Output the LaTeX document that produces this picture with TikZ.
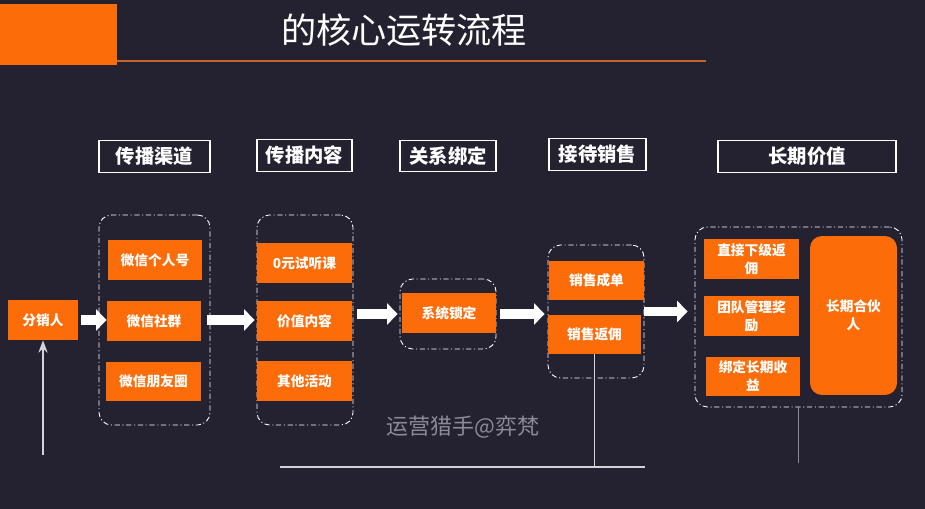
\documentclass[tikz,border=0pt]{standalone}
\usepackage{fontspec}
\newfontfamily\cjk{Noto Sans CJK SC}
\usepackage{tikz}
\usetikzlibrary{positioning,arrows.meta,fit}

\definecolor{bgDark}{RGB}{36,33,49}
\definecolor{accent}{RGB}{252,108,8}
\definecolor{ruleLine}{RGB}{196,98,48}
\definecolor{lineGray}{RGB}{210,210,216}
\definecolor{markGray}{RGB}{140,138,152}

\begin{document}
\begin{tikzpicture}[
  x=0.02cm, y=-0.02cm,
  headBox/.style={draw=white, line width=0.7pt, text=white, inner sep=0pt,
                  minimum height=0.63cm, text height=9.7pt, text depth=1.3pt,
                  font=\cjk\bfseries\fontsize{11}{13}\selectfont},
  groupBox/.style={draw=white, line width=0.5pt, rounded corners=0.25cm,
                   dash pattern=on 3pt off 1.5pt on 0.6pt off 1.5pt, inner sep=0pt},
  stepBox/.style={fill=accent, text=white, inner sep=0pt, align=center,
                  minimum width=1.9cm, minimum height=0.8cm,
                  text height=6.9pt, text depth=0.9pt,
                  font=\cjk\bfseries\fontsize{7.8}{10}\selectfont},
  twoLine/.style={text height=16.9pt, text depth=0.9pt},
  flowArrow/.style={white, line width=5.5pt, -{Triangle[length=6pt, width=12pt]}},
  fbLine/.style={lineGray, line width=0.9pt},
  >=Stealth
]
  % Background and title bar
  \fill[bgDark] (0,0) rectangle (925,509);
  \useasboundingbox (0,0) rectangle (925,509);
  \fill[accent] (0,4) rectangle (117,65);
  \draw[ruleLine, line width=0.9pt] (117,61) -- (706,61);
  \node[text=white, font=\cjk\fontsize{20}{24}\selectfont,
        text height=17.6pt, text depth=2.4pt] (title) at (404,30) {的核心运转流程};

  % Column headers
  \node[headBox, minimum width=2.22cm] (chanHead) at (154.5,156.5) {传播渠道};
  \node[headBox, minimum width=1.9cm] (contHead) at (304.5,155.5) {传播内容};
  \node[headBox, minimum width=1.92cm] (bindHead) at (448,156) {关系绑定};
  \node[headBox, minimum width=1.94cm] (saleHead) at (597.5,154.5) {接待销售};
  \node[headBox, minimum width=3.56cm] (valueHead) at (807,156.5) {长期价值};

  % Start
  \node[stepBox, minimum width=1.4cm] (distributor) at (43,320) {分销人};

  % Channels
  \node[groupBox, fit={(99,215) (210,425)}] (chanBox) {};
  \node[stepBox, minimum width=1.88cm] (wxPersonal) at (155,260) {微信个人号};
  \node[stepBox, minimum width=1.88cm] (wxGroup) at (154,321) {微信社群};
  \node[stepBox, minimum height=0.78cm] (wxMoments) at (153.5,381.5) {微信朋友圈};

  % Content
  \node[groupBox, fit={(257,215) (353,425)}] (contBox) {};
  \node[stepBox] (freeTrial) at (304.5,263) {0元试听课};
  \node[stepBox] (valueContent) at (304.5,321) {价值内容};
  \node[stepBox] (otherEvents) at (304.5,381) {其他活动};

  % Binding
  \node[groupBox, fit={(400,279) (496,349)}] (bindBox) {};
  \node[stepBox, minimum width=1.88cm] (sysLock) at (449,313) {系统锁定};

  % Sales
  \node[groupBox, fit={(548,245) (644,378)}] (salesBox) {};
  \node[stepBox, minimum height=0.78cm] (saleDeal) at (596.5,280.5) {销售成单};
  \node[stepBox, minimum width=1.86cm, minimum height=0.78cm] (saleRebate) at (594.5,334.5) {销售返佣};

  % Long-term value
  \node[groupBox, fit={(695,227) (902,407)}] (valueBox) {};
  \node[stepBox, twoLine] (directRebate) at (751.5,259) {直接下级返\\佣};
  \node[stepBox, twoLine] (teamReward) at (751.5,316) {团队管理奖\\励};
  \node[stepBox, twoLine, minimum width=1.88cm, minimum height=0.78cm] (longIncome) at (753,376.5) {绑定长期收\\益};
  \node[stepBox, twoLine, rounded corners=0.24cm, minimum width=1.74cm,
        minimum height=3.18cm] (partner) at (853.5,315.5) {长期合伙\\人};

  % Flow arrows
  \draw[flowArrow, shorten <=0.06cm, shorten >=-0.16cm]
    (distributor.east) -- (distributor.east -| chanBox.west);
  \draw[flowArrow, shorten <=-0.06cm, shorten >=0.04cm]
    (chanBox.east) -- (chanBox.east -| contBox.west);
  \draw[flowArrow, shorten <=0.08cm, shorten >=0.04cm]
    (bindBox.west -| contBox.east) -- (bindBox.west);
  \draw[flowArrow, shorten <=0.08cm, shorten >=0.06cm]
    (bindBox.east) -- (bindBox.east -| salesBox.west);
  \draw[flowArrow, shorten >=0.14cm]
    (salesBox.east) -- (salesBox.east -| valueBox.west);

  % Feedback lines
  \coordinate (fbStart) at (43,455);
  \coordinate (loopLeft) at (280,467);
  \coordinate (loopRight) at (645,467);
  \coordinate (valueTail) at (798,463);
  \draw[fbLine, ->] (fbStart) -- (distributor.south);
  \draw[fbLine] (saleRebate.south) -- (saleRebate.south |- loopLeft);
  \draw[fbLine] (loopLeft) -- (loopRight);
  \draw[fbLine, markGray] (valueBox.south) -- (valueBox.south |- valueTail);

  % Watermark
  \node[text=markGray, font=\cjk\fontsize{12.5}{15}\selectfont] (mark) at (463,427) {运营猎手@弈梵};
\end{tikzpicture}
\end{document}
